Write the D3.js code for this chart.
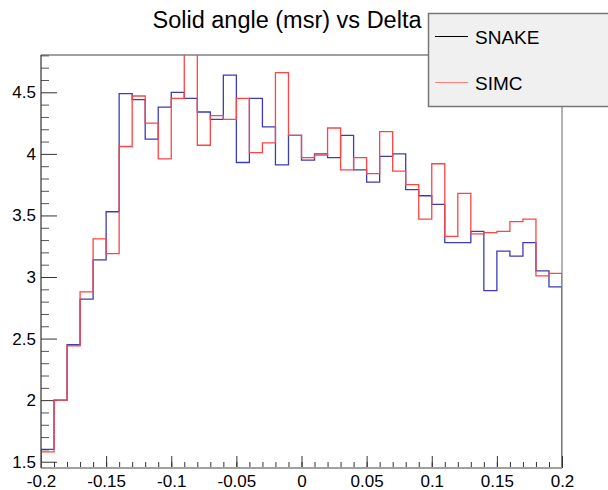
<!DOCTYPE html>
<html>
<head>
<meta charset="utf-8">
<script src="https://cdn.jsdelivr.net/npm/d3@7"></script>
<style>
  body { margin: 0; background: #fff; }
  svg { display: block; font-family: "Liberation Sans", Arial, sans-serif; }
</style>
</head>
<body>
<div class="chart"></div>
<script>
// binning of Delta: 40 bins of 0.01 between -0.2 and 0.2
var deltaMin = -0.2;
var deltaMax = 0.2;
var binWidth = 0.01;

// solid angle (msr) per bin
var snake = [1.60, 2.00, 2.45, 2.82, 3.14, 3.53, 4.49, 4.44, 4.12, 4.38,
             4.50, 4.45, 4.34, 4.28, 4.64, 3.93, 4.45, 4.22, 3.91, 4.15,
             3.95, 4.00, 3.97, 4.15, 3.87, 3.77, 3.98, 4.00, 3.71, 3.66,
             3.59, 3.28, 3.28, 3.37, 2.89, 3.21, 3.17, 3.28, 3.05, 2.92];
var simc  = [1.58, 2.00, 2.44, 2.88, 3.31, 3.19, 4.06, 4.47, 4.25, 3.96,
             4.45, 4.90, 4.07, 4.31, 4.28, 4.45, 4.01, 4.09, 4.66, 4.15,
             3.97, 3.99, 4.21, 3.87, 3.97, 3.84, 4.18, 3.86, 3.75, 3.47,
             3.92, 3.33, 3.68, 3.35, 3.36, 3.37, 3.45, 3.47, 3.01, 3.03];

var yMajor = [1.5, 2, 2.5, 3, 3.5, 4, 4.5];
var xMajor = [-0.2, -0.15, -0.1, -0.05, 0, 0.05, 0.1, 0.15, 0.2];
var seriesNames = ["SNAKE", "SIMC"];
var titleText = "Solid angle (msr) vs Delta";

var svgWidth = 608, svgHeight = 490;
var frame = { left: 41, right: 562, top: 55, bottom: 468 };

var svg = d3.select(".chart").append("svg")
  .attr("width", svgWidth)
  .attr("height", svgHeight);

var x = d3.scaleLinear().domain([deltaMin, deltaMax]).range([frame.left, frame.right]);
var y = d3.scaleLinear().domain([1.449, 4.803]).range([frame.bottom, frame.top]);

// clip for the histograms
svg.append("clipPath").attr("id", "frameClip")
  .append("rect")
  .attr("x", frame.left).attr("y", frame.top)
  .attr("width", frame.right - frame.left)
  .attr("height", frame.bottom - frame.top);

// frame lines (grey), axes drawn on top
svg.append("line").attr("x1", frame.left).attr("x2", frame.right)
  .attr("y1", frame.top).attr("y2", frame.top)
  .attr("stroke", "#a0a0a0").attr("stroke-width", 2);
svg.append("line").attr("x1", frame.right).attr("x2", frame.right)
  .attr("y1", frame.top).attr("y2", frame.bottom)
  .attr("stroke", "#999").attr("stroke-width", 1.5);

// minor ticks
var yMinor = d3.range(15, 49).map(d => d / 10).filter(d => yMajor.indexOf(d) < 0);
var xMinor = d3.range(-20, 21).map(d => d / 100);

svg.append("g")
  .attr("transform", `translate(${frame.left},0)`)
  .call(d3.axisLeft(y).tickValues(yMinor).tickSize(-8).tickFormat(""))
  .call(g => g.select(".domain").remove())
  .call(g => g.selectAll("line").attr("stroke", "#555"));

svg.append("g")
  .attr("transform", `translate(0,${frame.bottom})`)
  .call(d3.axisBottom(x).tickValues(xMinor).tickSize(-6).tickFormat(""))
  .call(g => g.select(".domain").remove())
  .call(g => g.selectAll("line").attr("stroke", "#333"));

// major ticks with labels (plain hyphen for negatives, like ROOT)
var plainFormat = d => String(d);

var yAxis = svg.append("g")
  .attr("transform", `translate(${frame.left},0)`)
  .call(d3.axisLeft(y).tickValues(yMajor).tickSize(-16).tickPadding(5).tickFormat(plainFormat))
  .call(g => g.select(".domain").remove());
yAxis.selectAll("line").attr("stroke", "#333");
yAxis.selectAll("text").attr("font-size", "17px").attr("fill", "#000")
  .style("font-family", "'Liberation Sans', Arial, sans-serif");

var xAxis = svg.append("g")
  .attr("transform", `translate(0,${frame.bottom})`)
  .call(d3.axisBottom(x).tickValues(xMajor).tickSize(-12).tickPadding(7).tickFormat(plainFormat))
  .call(g => g.select(".domain").remove());
xAxis.selectAll("line").attr("stroke", "#333");
xAxis.selectAll("text").attr("font-size", "17px").attr("fill", "#000")
  .style("font-family", "'Liberation Sans', Arial, sans-serif");

// histograms as step outlines
function histPoints(values) {
  var pts = [[deltaMin, y.domain()[0]]];
  values.forEach(function(v, i) {
    pts.push([deltaMin + i * binWidth, v]);
  });
  pts.push([deltaMax, values[values.length - 1]]);
  pts.push([deltaMax, y.domain()[0]]);
  return pts;
}

var stepLine = d3.line()
  .x(d => x(d[0]))
  .y(d => y(d[1]))
  .curve(d3.curveStepAfter);

var plot = svg.append("g").attr("clip-path", "url(#frameClip)");

plot.append("path")
  .attr("d", stepLine(histPoints(snake)))
  .attr("fill", "none")
  .attr("stroke", "#3c3cb4")
  .attr("stroke-width", 1.3);

plot.append("path")
  .attr("d", stepLine(histPoints(simc)))
  .attr("fill", "none")
  .attr("stroke", "#ff4444")
  .attr("stroke-width", 1.3);

// axis lines
svg.append("line").attr("x1", frame.left).attr("x2", frame.right)
  .attr("y1", frame.bottom).attr("y2", frame.bottom)
  .attr("stroke", "#a0a0a0").attr("stroke-width", 2);
svg.append("line").attr("x1", frame.left).attr("x2", frame.left)
  .attr("y1", frame.top).attr("y2", frame.bottom)
  .attr("stroke", "#333").attr("stroke-width", 1.2);

// title
svg.append("text")
  .attr("x", 287)
  .attr("y", 28)
  .attr("text-anchor", "middle")
  .attr("font-size", "23.5px")
  .text(titleText);

// legend
var legend = svg.append("g");
legend.append("rect")
  .attr("x", 428.5).attr("y", 13.5)
  .attr("width", 185).attr("height", 93)
  .attr("fill", "#f0f0f0")
  .attr("stroke", "#777").attr("stroke-width", 1.5);

var legendColors = ["#000", "#ff8080"];
seriesNames.forEach(function(name, i) {
  var ly = 36.5 + i * 46;
  legend.append("line")
    .attr("x1", 435).attr("x2", 468)
    .attr("y1", ly).attr("y2", ly)
    .attr("stroke", legendColors[i]).attr("stroke-width", 1.2);
  legend.append("text")
    .attr("x", 475).attr("y", ly + 7.5)
    .attr("font-size", "19px")
    .text(name);
});
</script>
</body>
</html>
